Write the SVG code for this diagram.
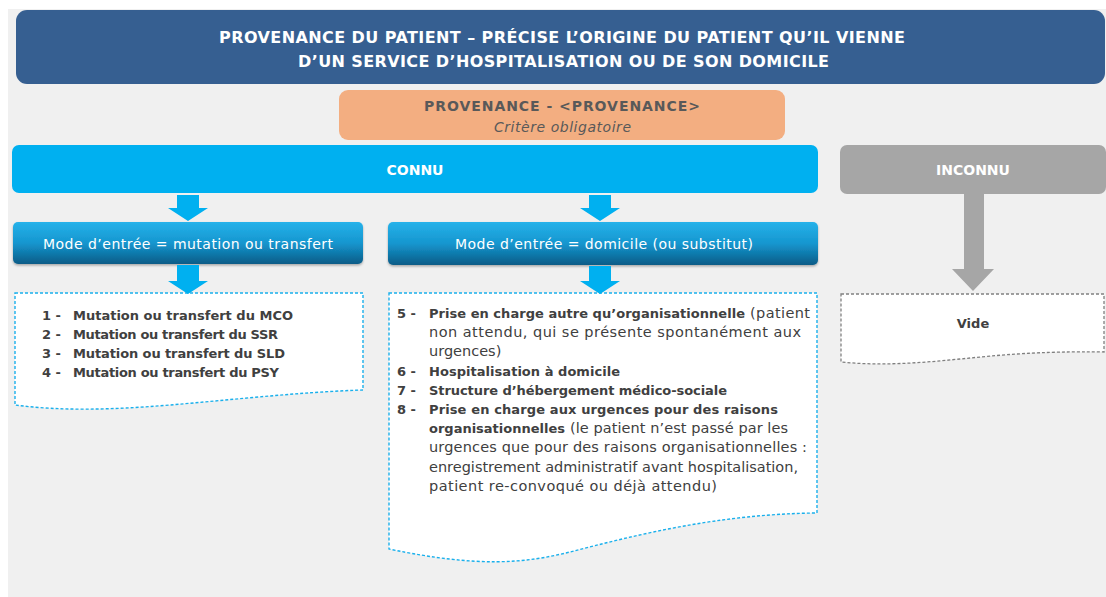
<svg xmlns="http://www.w3.org/2000/svg" width="1106" height="597" viewBox="0 0 1106 597">
<defs>
<linearGradient id="modeGrad" x1="0" y1="0" x2="0" y2="1">
<stop offset="0" stop-color="#26b2ea"/>
<stop offset="0.5" stop-color="#1596cf"/>
<stop offset="1" stop-color="#0a5c87"/>
</linearGradient>
<filter id="shadow" x="-5%" y="-10%" width="110%" height="130%">
<feDropShadow dx="0" dy="1.5" stdDeviation="1.2" flood-color="#000" flood-opacity="0.3"/>
</filter>
</defs>
<style>
text{font-family:"DejaVu Sans","Liberation Sans",sans-serif}
.title{font-size:16px;font-weight:bold;fill:#ffffff}
.hdr{font-size:14px;font-weight:bold;fill:#ffffff}
.mode{font-size:14px;fill:#ffffff}
.orange{font-size:14px;font-weight:bold;fill:#595959}
.orangeSub{font-size:14px;font-style:italic;fill:#595959}
.b{font-size:13px;font-weight:bold;fill:#404040}
.r{font-size:14.5px;fill:#404040}
.listBlue{fill:#ffffff;stroke:#1ab0ec;stroke-width:1.4;stroke-dasharray:3 2}
.listGray{fill:#ffffff;stroke:#808080;stroke-width:1.3;stroke-dasharray:3 2}
.arrowBlue{fill:#00b0f0}
.arrowGray{fill:#a6a6a6}
</style>
<rect x="8" y="9" width="1098" height="588" fill="#f0f0f0"/>

<g id="title">
<rect x="16" y="10" width="1089" height="74" rx="11" fill="#365f91"/>
<text class="title" x="219" y="43" textLength="686">PROVENANCE DU PATIENT – PRÉCISE L’ORIGINE DU PATIENT QU’IL VIENNE</text>
<text class="title" x="298" y="67" textLength="531">D’UN SERVICE D’HOSPITALISATION OU DE SON DOMICILE</text>
</g>

<g id="provenance">
<rect x="339" y="90" width="446" height="50" rx="9" fill="#f3ae81"/>
<text class="orange" x="424" y="111" textLength="276">PROVENANCE - &lt;PROVENANCE&gt;</text>
<text class="orangeSub" x="494" y="132" textLength="137">Critère obligatoire</text>
</g>

<g id="connu">
<rect x="12" y="145" width="806" height="48" rx="7" fill="#00b0f0"/>
<text class="hdr" x="415" y="175" text-anchor="middle">CONNU</text>
</g>

<g id="inconnu">
<rect x="840" y="145" width="266" height="49" rx="7" fill="#a6a6a6"/>
<text class="hdr" x="973" y="175" text-anchor="middle">INCONNU</text>
</g>

<g id="mode-mutation">
<rect x="13" y="222" width="350" height="42" rx="5" fill="url(#modeGrad)" filter="url(#shadow)"/>
<text class="mode" x="43" y="249" textLength="290">Mode d’entrée = mutation ou transfert</text>
</g>

<g id="mode-domicile">
<rect x="388" y="222" width="430" height="43" rx="5" fill="url(#modeGrad)" filter="url(#shadow)"/>
<text class="mode" x="455" y="249" textLength="298">Mode d’entrée = domicile (ou substitut)</text>
</g>

<g id="liste-mutation">
<path class="listBlue" d="M15,293 H363 V390 C300,392 230,400 170,405 C110,410 60,411 15,405 Z"/>
<text class="b" x="42" y="320">1 -</text>
<text class="b" x="73" y="320" textLength="220">Mutation ou transfert du MCO</text>
<text class="b" x="42" y="339">2 -</text>
<text class="b" x="73" y="339" textLength="205">Mutation ou transfert du SSR</text>
<text class="b" x="42" y="358">3 -</text>
<text class="b" x="73" y="358" textLength="212">Mutation ou  transfert du SLD</text>
<text class="b" x="42" y="377">4 -</text>
<text class="b" x="73" y="377" textLength="206">Mutation ou transfert du PSY</text>
</g>

<g id="liste-domicile">
<path class="listBlue" d="M389,293 H817 V513 C720,514 640,534 570,552 C525,563 480,568 389,549 Z"/>
<text class="b" x="397" y="318">5 -</text>
<text class="b" x="429" y="318" textLength="316">Prise en charge autre qu’organisationnelle</text>
<text class="r" x="750" y="318" textLength="60">(patient</text>
<text class="r" x="429" y="337.2" textLength="372">non attendu, qui se présente spontanément aux</text>
<text class="r" x="429" y="356.4">urgences)</text>
<text class="b" x="397" y="375.6">6 -</text>
<text class="b" x="429" y="375.6" textLength="191">Hospitalisation à domicile</text>
<text class="b" x="397" y="394.8">7 -</text>
<text class="b" x="429" y="394.8" textLength="298">Structure d’hébergement médico-sociale</text>
<text class="b" x="397" y="414">8 -</text>
<text class="b" x="429" y="414" textLength="349">Prise en charge aux urgences pour des raisons</text>
<text class="b" x="429" y="433.2" textLength="136">organisationnelles</text>
<text class="r" x="570" y="433.2" textLength="218">(le patient n’est passé par les</text>
<text class="r" x="429" y="452.4" textLength="378">urgences que pour des raisons organisationnelles :</text>
<text class="r" x="429" y="471.6" textLength="369">enregistrement administratif avant hospitalisation,</text>
<text class="r" x="429" y="490.8" textLength="288">patient re-convoqué ou déjà attendu)</text>
</g>

<g id="vide">
<path class="listGray" d="M841,294 H1104 V352 C1040,351 1000,355 960,359 C920,363 880,366 841,362 Z"/>
<text class="b" x="973" y="328" text-anchor="middle">Vide</text>
</g>

<g id="connectors">
<polygon class="arrowBlue" points="177,195 199,195 199,208 208,208 188,221 168,208 177,208"/>
<polygon class="arrowBlue" points="589,195 611,195 611,208 620,208 600,221 580,208 589,208"/>
<polygon class="arrowBlue" points="177,265 199,265 199,281 208,281 188,294 168,281 177,281"/>
<polygon class="arrowBlue" points="589,266 611,266 611,281 620,281 600,294 580,281 589,281"/>
<polygon class="arrowGray" points="964,194 984,194 984,269 994,269 973,291 952,269 964,269"/>
</g>
</svg>
